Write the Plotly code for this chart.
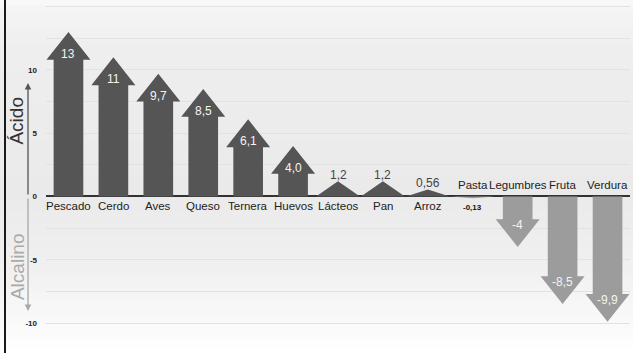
import plotly.graph_objects as go

categories = ["Pescado", "Cerdo", "Aves", "Queso", "Ternera", "Huevos", "Lácteos",
              "Pan", "Arroz", "Pasta", "Legumbres", "Fruta", "Verdura"]
values = [13, 11, 9.7, 8.5, 6.1, 4.0, 1.2, 1.2, 0.56, -0.13, -4, -8.5, -9.9]
value_labels = ["13", "11", "9,7", "8,5", "6,1", "4,0", "1,2", "1,2", "0,56",
                "-0,13", "-4", "-8,5", "-9,9"]
y_tickvals = [-10, -7.5, -5, -2.5, 0, 2.5, 5, 7.5, 10, 12.5, 15]
y_ticktext = ["-10", "", "-5", "", "0", "", "5", "", "10", "", ""]

FONT = "Liberation Sans, Arial, sans-serif"
POS_COLOR = "#555555"
NEG_COLOR = "#9c9c9c"
HEAD_H = 2.2
HEAD_W = 0.49
SHAFT_W = 0.33

fig = go.Figure()

for i, v in enumerate(values):
    s = 1 if v >= 0 else -1
    h = min(abs(v), HEAD_H)
    base = v - s * h
    if abs(v) > HEAD_H:
        xs = [i - SHAFT_W, i - SHAFT_W, i - HEAD_W, i, i + HEAD_W, i + SHAFT_W, i + SHAFT_W, i - SHAFT_W]
        ys = [0, base, base, v, base, base, 0, 0]
    else:
        xs = [i - HEAD_W, i, i + HEAD_W, i - HEAD_W]
        ys = [0, v, 0, 0]
    fig.add_trace(go.Scatter(x=xs, y=ys, fill="toself", mode="lines",
                             line=dict(width=0), fillcolor=POS_COLOR if v >= 0 else NEG_COLOR,
                             hoverinfo="skip", showlegend=False))

annotations = []
for i, (c, v, lab) in enumerate(zip(categories, values, value_labels)):
    if v >= 0:
        annotations.append(dict(x=i, y=0, text=c, showarrow=False, yanchor="top", yshift=-2,
                                font=dict(family=FONT, size=11.5, color="#222")))
    else:
        annotations.append(dict(x=i, y=0, text=c, showarrow=False, yanchor="bottom", yshift=3,
                                font=dict(family=FONT, size=11.5, color="#222")))
    if abs(v) >= 2:
        annotations.append(dict(x=i, y=v, text=lab, showarrow=False, yanchor="middle",
                                yshift=-22 if v > 0 else 22,
                                font=dict(family=FONT, size=12, color="#f4f4f4")))
    elif v >= 0:
        annotations.append(dict(x=i, y=v, text=lab, showarrow=False, yanchor="bottom", yshift=-3,
                                font=dict(family=FONT, size=12, color="#444")))
    else:
        annotations.append(dict(x=i, y=v, text="<b>" + lab + "</b>", showarrow=False,
                                yanchor="top", yshift=-3,
                                font=dict(family=FONT, size=8, color="#111")))

annotations.append(dict(xref="paper", yref="y", x=-0.0308, y=8.97, ax=0, ay=113,
                        text="", showarrow=True, arrowhead=2, arrowsize=1,
                        arrowwidth=1.3, arrowcolor="#555"))
annotations.append(dict(xref="paper", yref="y", x=-0.0308, y=-9.05, ax=0, ay=-114,
                        text="", showarrow=True, arrowhead=2, arrowsize=1,
                        arrowwidth=1.3, arrowcolor="#a8a8a8"))
annotations.append(dict(xref="paper", yref="y", x=-0.0497, y=6.0, text="Ácido", textangle=-90,
                        showarrow=False, xanchor="center", yanchor="middle",
                        font=dict(family=FONT, size=19, color="#333")))
annotations.append(dict(xref="paper", yref="y", x=-0.0497, y=-5.5, text="Alcalino", textangle=-90,
                        showarrow=False, xanchor="center", yanchor="middle",
                        font=dict(family=FONT, size=19, color="#aaaaaa")))

stops = [(0.0, 250), (0.03, 244), (0.15, 238), (0.55, 234), (0.75, 240), (0.92, 250), (1.0, 255)]
shapes = []
n = 60
for k in range(n):
    f0 = k / n
    f1 = (k + 1) / n
    fm = (f0 + f1) / 2
    for (a, ga), (b, gb) in zip(stops[:-1], stops[1:]):
        if a <= fm <= b:
            g = ga + (gb - ga) * (fm - a) / (b - a)
            break
    g = int(round(g))
    shapes.append(dict(type="rect", xref="paper", yref="paper", x0=-0.08, x1=1.01,
                       y0=1 - f1, y1=1 - f0 + 0.002, line=dict(width=0),
                       fillcolor=f"rgb({g},{g},{g})", layer="below"))
shapes.append(dict(type="line", xref="paper", yref="paper", x0=-0.0702, x1=-0.0702,
                   y0=0, y1=1, line=dict(color="#1a1a1a", width=2)))

fig.update_layout(
    width=633, height=353,
    margin=dict(l=46, r=3, t=0, b=0),
    paper_bgcolor="white", plot_bgcolor="rgba(0,0,0,0)",
    showlegend=False,
    xaxis=dict(range=[-0.5, 12.5], showgrid=False, zeroline=False, showticklabels=False,
               fixedrange=True),
    yaxis=dict(range=[-12.37, 15.53], tickvals=y_tickvals, ticktext=y_ticktext,
               showgrid=True, gridcolor="#e2e2e2", gridwidth=1,
               zeroline=True, zerolinecolor="#333", zerolinewidth=1.5,
               ticks="", ticklabelstandoff=8,
               tickfont=dict(family=FONT, size=8, color="#222", weight="bold"),
               fixedrange=True),
    annotations=annotations,
    shapes=shapes,
)

fig.write_html("out.html")
